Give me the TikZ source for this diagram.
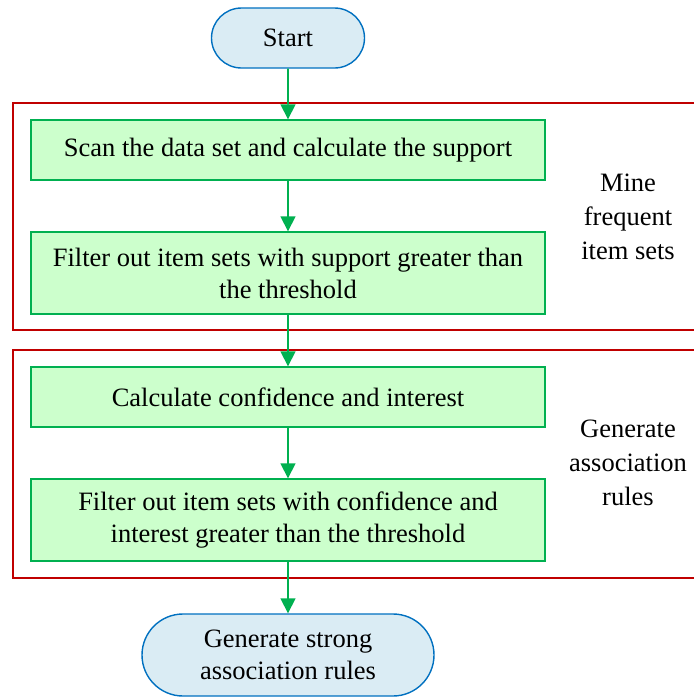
\documentclass[tikz,border=0pt]{standalone}
\usepackage{fontspec}
\setmainfont{Liberation Serif}
\usetikzlibrary{arrows.meta,shapes.misc}
\definecolor{bblue}{RGB}{0,112,192}
\definecolor{bfill}{RGB}{218,236,244}
\definecolor{ggreen}{RGB}{0,176,80}
\definecolor{gfill}{RGB}{204,255,204}
\definecolor{rred}{RGB}{192,0,0}
\begin{document}
\begin{tikzpicture}[x=1pt,y=-1pt,
  term/.style={draw=bblue,fill=bfill,line width=1.4pt,rounded rectangle,align=center,inner sep=0pt},
  proc/.style={draw=ggreen,fill=gfill,line width=1.4pt,rectangle,minimum width=514pt,align=center,inner sep=0pt},
  grp/.style={draw=rred,line width=1.4pt},
  flow/.style={draw=ggreen,line width=1.6pt,-{Triangle[length=15pt,width=15pt]}},
  lab/.style={align=center,inner sep=0pt,font=\fontsize{26.5}{34}\selectfont},
  font=\fontsize{26.5}{32}\selectfont]
\useasboundingbox (0,0) rectangle (694,697);
\draw[grp] (700,103) -- (13,103) -- (13,330) -- (700,330);
\draw[grp] (700,350) -- (13,350) -- (13,578) -- (700,578);
\node[term,minimum width=153pt,minimum height=60pt] (start) at (288,38) {Start};
\node[proc,minimum height=60pt] (s1) at (288,150) {Scan the data set and calculate the support};
\node[proc,minimum height=82pt] (s2) at (288,273) {Filter out item sets with support greater than\\the threshold};
\node[proc,minimum height=60pt] (s3) at (288,397) {Calculate confidence and interest};
\node[proc,minimum height=82pt] (s4) at (288,520) {Filter out item sets with confidence and\\interest greater than the threshold};
\node[term,minimum width=292pt,minimum height=82pt] (end) at (288,655) {Generate strong\\association rules};
\node[lab] (l1) at (628,217) {Mine\\frequent\\item sets};
\node[lab] (l2) at (628,463) {Generate\\association\\rules};
\draw[flow] (start) -- (s1);
\draw[flow] (s1) -- (s2);
\draw[flow] (s2) -- (s3);
\draw[flow] (s3) -- (s4);
\draw[flow] (s4) -- (end);
\end{tikzpicture}
\end{document}
